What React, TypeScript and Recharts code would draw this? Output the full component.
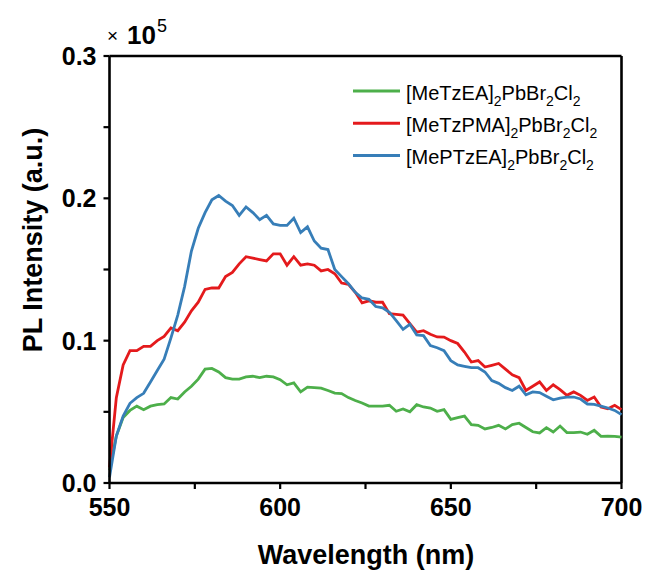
import React from "react";
import { LineChart, Line, XAxis, YAxis, ReferenceLine } from "recharts";

const wavelengths: number[] = [
  550, 552, 554, 556, 558, 560, 562, 564, 566, 568, 570, 572, 574, 576, 578, 580,
  582, 584, 586, 588, 590, 592, 594, 596, 598, 600, 602, 604, 606, 608, 610, 612,
  614, 616, 618, 620, 622, 624, 626, 628, 630, 632, 634, 636, 638, 640, 642, 644,
  646, 648, 650, 652, 654, 656, 658, 660, 662, 664, 666, 668, 670, 672, 674, 676,
  678, 680, 682, 684, 686, 688, 690, 692, 694, 696, 698, 700,
];

const meTzEA: number[] = [
  0.009, 0.033, 0.046, 0.051, 0.054, 0.0515, 0.054, 0.055, 0.0555, 0.06, 0.059, 0.064, 0.068, 0.073, 0.08, 0.0805,
  0.078, 0.074, 0.073, 0.073, 0.0745, 0.075, 0.074, 0.075, 0.0745, 0.0726, 0.069, 0.0703, 0.064, 0.0674, 0.067, 0.0667,
  0.065, 0.0632, 0.0628, 0.06, 0.058, 0.0562, 0.054, 0.054, 0.054, 0.0546, 0.0504, 0.052, 0.05, 0.055, 0.0534, 0.0527,
  0.0504, 0.0515, 0.0447, 0.046, 0.047, 0.041, 0.0405, 0.038, 0.039, 0.0405, 0.038, 0.041, 0.042, 0.039, 0.036, 0.0352,
  0.0389, 0.0358, 0.04, 0.0354, 0.0354, 0.0358, 0.0342, 0.037, 0.0328, 0.033, 0.0328, 0.0323,
];

const meTzPMA: number[] = [
  0.011, 0.06, 0.083, 0.093, 0.093, 0.096, 0.096, 0.1, 0.103, 0.109, 0.107, 0.113, 0.121, 0.127, 0.136, 0.137,
  0.137, 0.145, 0.148, 0.154, 0.159, 0.158, 0.157, 0.156, 0.161, 0.161, 0.153, 0.159, 0.153, 0.154, 0.153, 0.149,
  0.15, 0.147, 0.1405, 0.1396, 0.134, 0.1265, 0.128, 0.127, 0.127, 0.119, 0.1185, 0.118, 0.112, 0.106, 0.107, 0.1045,
  0.1026, 0.1025, 0.1, 0.098, 0.092, 0.085, 0.086, 0.0815, 0.0827, 0.084, 0.08, 0.076, 0.074, 0.065, 0.068, 0.071,
  0.065, 0.069, 0.0656, 0.0616, 0.064, 0.0616, 0.058, 0.0604, 0.0534, 0.0522, 0.0546, 0.0515,
];

const mePTzEA: number[] = [
  0.004, 0.033, 0.047, 0.056, 0.06, 0.063, 0.071, 0.079, 0.087, 0.102, 0.118, 0.138, 0.163, 0.179, 0.19, 0.199,
  0.202, 0.198, 0.195, 0.188, 0.194, 0.19, 0.185, 0.188, 0.182, 0.181, 0.181, 0.186, 0.176, 0.18, 0.17, 0.165,
  0.164, 0.15, 0.145, 0.14, 0.134, 0.13, 0.129, 0.124, 0.123, 0.12, 0.114, 0.108, 0.1115, 0.104, 0.1035, 0.0965,
  0.095, 0.093, 0.086, 0.083, 0.082, 0.081, 0.081, 0.078, 0.072, 0.07, 0.067, 0.065, 0.068, 0.062, 0.064, 0.0635,
  0.061, 0.0585, 0.0597, 0.0604, 0.0604, 0.059, 0.0555, 0.0553, 0.054, 0.0527, 0.051, 0.048,
];

const seriesNames: string[] = [
  "[MeTzEA]2PbBr2Cl2",
  "[MeTzPMA]2PbBr2Cl2",
  "[MePTzEA]2PbBr2Cl2",
];
const seriesKeys: string[] = ["a", "b", "c"];
const seriesColors: string[] = ["#4daf4a", "#e41a1c", "#377eb8"];

const xTicks: number[] = [550, 575, 600, 625, 650, 675, 700];
const yTicks: number[] = [0, 0.05, 0.1, 0.15, 0.2, 0.25, 0.3];

const data = wavelengths.map((w, i) => ({
  w,
  a: meTzEA[i],
  b: meTzPMA[i],
  c: mePTzEA[i],
}));

const FONT = "'Liberation Sans', Arial, Helvetica, sans-serif";

function SubText({ name, x, y }: { name: string; x: number; y: number }) {
  const parts = name.match(/\d+|[^\d]+/g) || [];
  let sub = false;
  return (
    <text x={x} y={y} fontFamily={FONT} fontSize={20} fill="#000">
      {parts.map((p, i) => {
        const isNum = /^\d+$/.test(p);
        let dy = 0;
        if (isNum && !sub) dy = 6;
        if (!isNum && sub) dy = -6;
        sub = isNum;
        return (
          <tspan key={i} dy={dy} fontSize={isNum ? 14 : 20}>
            {p}
          </tspan>
        );
      })}
    </text>
  );
}

function ChartLegend() {
  return (
    <g>
      {seriesNames.map((n, i) => {
        const y = 91 + i * 32.3;
        return (
          <g key={n}>
            <line x1={353} x2={400} y1={y} y2={y} stroke={seriesColors[i]} strokeWidth={3} />
            <SubText name={n} x={406} y={y + 8.5} />
          </g>
        );
      })}
    </g>
  );
}

const tickStyle = { fontFamily: FONT, fontWeight: "bold" as const, fontSize: 25, fill: "#000" };

export default function App() {
  return (
    <div style={{ position: "absolute", left: 0, top: 0, width: 645, height: 571, background: "#fff" }}>
      <LineChart
        width={645}
        height={571}
        data={data}
        margin={{ top: 56, right: 23.5, bottom: 48, left: 0.5 }}
      >
        <XAxis
          dataKey="w"
          type="number"
          domain={[550, 700]}
          ticks={xTicks}
          tickFormatter={(v: number) => (v % 50 === 0 ? String(v) : "")}
          height={40}
          tickSize={6}
          tickMargin={9}
          axisLine={{ stroke: "#000", strokeWidth: 2.6 }}
          tickLine={{ stroke: "#000", strokeWidth: 2.2 }}
          tick={tickStyle}
          interval={0}
        />
        <YAxis
          type="number"
          domain={[0, 0.3]}
          ticks={yTicks}
          tickFormatter={(v: number) =>
            Math.abs(v * 10 - Math.round(v * 10)) < 1e-6 ? v.toFixed(1) : ""
          }
          width={109}
          tickSize={6}
          tickMargin={7}
          axisLine={{ stroke: "#000", strokeWidth: 2.6 }}
          tickLine={{ stroke: "#000", strokeWidth: 2.2 }}
          tick={tickStyle}
          interval={0}
        />
        <ReferenceLine y={0.3} stroke="#000" strokeWidth={2.6} />
        <ReferenceLine x={700} stroke="#000" strokeWidth={2.6} />
        {seriesKeys.map((k, i) => (
          <Line
            key={k}
            dataKey={k}
            name={seriesNames[i]}
            stroke={seriesColors[i]}
            strokeWidth={2.8}
            dot={false}
            activeDot={false}
            type="linear"
            isAnimationActive={false}
          />
        ))}
        <ChartLegend />
        <text x={366} y={564} textAnchor="middle" fontFamily={FONT} fontWeight="bold" fontSize={27} fill="#000">
          Wavelength (nm)
        </text>
        <text
          x={42}
          y={240}
          textAnchor="middle"
          fontFamily={FONT}
          fontWeight="bold"
          fontSize={27}
          fill="#000"
          transform="rotate(-90, 42, 240)"
        >
          PL Intensity (a.u.)
        </text>
        <text x={107} y={42} fontFamily={FONT} fontSize={19} fill="#000">
          ×
        </text>
        <text x={127} y={44} fontFamily={FONT} fontWeight="bold" fontSize={26} fill="#000">
          10
        </text>
        <text x={157} y={32} fontFamily={FONT} fontSize={18} fill="#000">
          5
        </text>
      </LineChart>
    </div>
  );
}
